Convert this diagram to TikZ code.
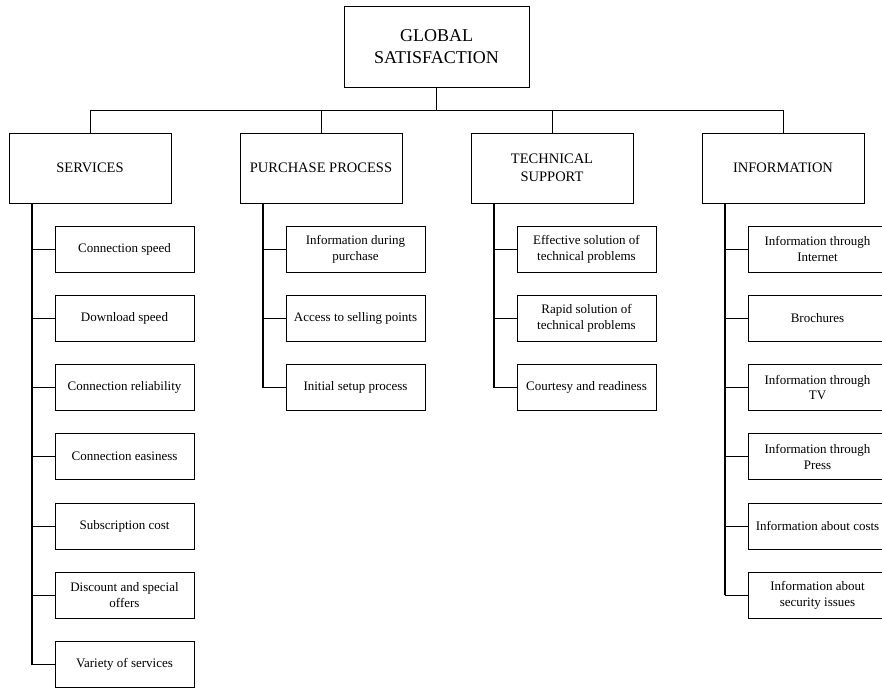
\documentclass[tikz,border=0pt]{standalone}
\usepackage{fontspec}
\setmainfont{Liberation Serif}
\begin{document}
\begin{tikzpicture}[x=1pt,y=-1pt,
  box/.style={draw,line width=1pt,rectangle,inner sep=0pt,align=center},
  topbox/.style={box,minimum width=185pt,minimum height=81pt,font=\fontsize{18}{22}\selectfont},
  catbox/.style={box,minimum width=162pt,minimum height=70pt,font=\fontsize{14.5}{17.5}\selectfont},
  itembox/.style={box,minimum width=139pt,minimum height=46pt,font=\fontsize{13}{15.8}\selectfont},
  link/.style={line width=1pt},
  trunk/.style={line width=1.7pt}]
\useasboundingbox (0,0) rectangle (882,689);
% top
\node[topbox] (G) at (436.5,46.5) {GLOBAL\\SATISFACTION};
% categories
\node[catbox] (S) at (90,168) {SERVICES};
\node[catbox] (P) at (321,168) {PURCHASE PROCESS};
\node[catbox] (T) at (552,168) {TECHNICAL\\SUPPORT};
\node[catbox] (I) at (783,168) {INFORMATION};
\coordinate (bus) at (436.5,110);
\draw[link] (G.south) -- (bus);
\draw[link] (S.north) -- (S.north |- bus) -- (I.north |- bus) -- (I.north);
\draw[link] (P.north) -- (P.north |- bus);
\draw[link] (T.north) -- (T.north |- bus);
% services items
\node[itembox] (s1) at (124.5,249) {Connection speed};
\node[itembox] (s2) at (124.5,318.3) {Download speed};
\node[itembox] (s3) at (124.5,387.5) {Connection reliability};
\node[itembox] (s4) at (124.5,456.7) {Connection easiness};
\node[itembox] (s5) at (124.5,526) {Subscription cost};
\node[itembox] (s6) at (124.5,595.2) {Discount and special\\offers};
\node[itembox] (s7) at (124.5,664.5) {Variety of services};
\coordinate (sT) at (32,203);
\draw[trunk] (sT) -- (sT |- s7.west);
\foreach \n in {s1,s2,s3,s4,s5,s6,s7} \draw[link] (\n.west) -- (\n.west -| sT);
% purchase items
\node[itembox] (p1) at (355.5,249) {Information during\\purchase};
\node[itembox] (p2) at (355.5,318.3) {Access to selling points};
\node[itembox] (p3) at (355.5,387.5) {Initial setup process};
\coordinate (pT) at (263,203);
\draw[trunk] (pT) -- (pT |- p3.west);
\foreach \n in {p1,p2,p3} \draw[link] (\n.west) -- (\n.west -| pT);
% technical items
\node[itembox] (t1) at (586.5,249) {Effective solution of\\technical problems};
\node[itembox] (t2) at (586.5,318.3) {Rapid solution of\\technical problems};
\node[itembox] (t3) at (586.5,387.5) {Courtesy and readiness};
\coordinate (tT) at (494,203);
\draw[trunk] (tT) -- (tT |- t3.west);
\foreach \n in {t1,t2,t3} \draw[link] (\n.west) -- (\n.west -| tT);
% information items
\node[itembox] (i1) at (817.5,249) {Information through\\Internet};
\node[itembox] (i2) at (817.5,318.3) {Brochures};
\node[itembox] (i3) at (817.5,387.5) {Information through\\TV};
\node[itembox] (i4) at (817.5,456.7) {Information through\\Press};
\node[itembox] (i5) at (817.5,526) {Information about costs};
\node[itembox] (i6) at (817.5,595.2) {Information about\\security issues};
\coordinate (iT) at (725,203);
\draw[trunk] (iT) -- (iT |- i6.west);
\foreach \n in {i1,i2,i3,i4,i5,i6} \draw[link] (\n.west) -- (\n.west -| iT);
\end{tikzpicture}
\end{document}
